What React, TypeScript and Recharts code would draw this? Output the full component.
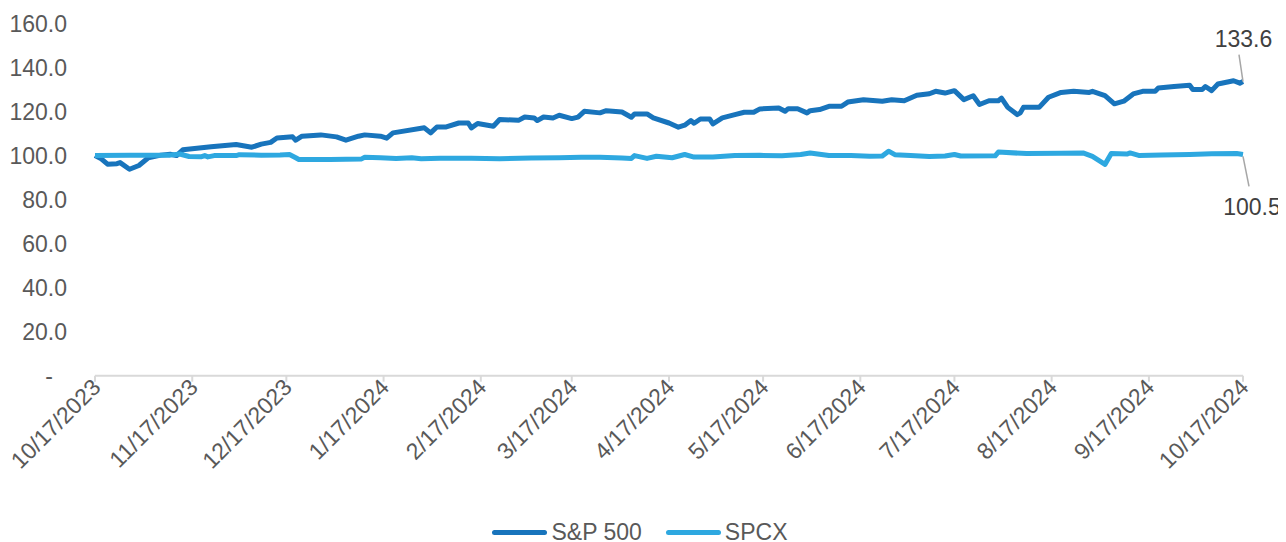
import React from "react";
import { LineChart, Line, XAxis, YAxis } from "recharts";

const tickLabels = [
  "10/17/2023", "11/17/2023", "12/17/2023", "1/17/2024", "2/17/2024", "3/17/2024",
  "4/17/2024", "5/17/2024", "6/17/2024", "7/17/2024", "8/17/2024", "9/17/2024", "10/17/2024",
];
const yTicks = [0, 20, 40, 60, 80, 100, 120, 140, 160];

// days since 10/17/2023
const spDays = [0, 2, 4, 7, 8, 11, 14, 17, 21, 24, 26, 28, 37, 45, 50, 53, 56, 58, 63, 64, 66, 72, 77, 80, 84, 86, 91, 93, 95, 105, 107, 109, 112, 116, 119, 120, 122, 127, 129, 135, 137, 140, 141, 143, 146, 148, 152, 154, 156, 161, 163, 168, 171, 172, 176, 178, 183, 186, 188, 190, 191, 193, 196, 197, 200, 204, 207, 210, 212, 218, 220, 221, 224, 227, 228, 231, 234, 238, 240, 245, 251, 254, 258, 262, 266, 268, 271, 274, 277, 280, 282, 285, 288, 289, 291, 294, 295, 296, 301, 304, 308, 312, 317, 318, 322, 325, 328, 331, 334, 338, 339, 344, 349, 350, 353, 354, 356, 358, 363, 365, 366];
const spValues = [100, 98.5, 96.1, 96.3, 96.8, 93.8, 95.5, 99.0, 100.2, 100.6, 100.0, 102.6, 104, 105, 103.8, 105.2, 106, 108, 108.5, 107, 108.8, 109.4, 108.5, 107, 108.8, 109.4, 108.8, 107.9, 110.3, 112.6, 110.3, 113, 113, 114.8, 114.8, 112.6, 114.6, 113.3, 116.4, 116, 117.5, 117.1, 115.9, 117.5, 117.1, 118.3, 116.8, 117.5, 120.1, 119.4, 120.4, 119.8, 117.4, 118.9, 118.9, 117.1, 114.8, 112.9, 113.8, 115.9, 114.7, 116.6, 116.6, 114.4, 117.1, 118.6, 119.7, 119.7, 121.2, 121.6, 120.1, 121.3, 121.3, 119.4, 120.4, 120.9, 122.4, 122.4, 124.3, 125.4, 124.7, 125.4, 124.9, 127.4, 128.1, 129.2, 128.4, 129.5, 125.4, 127.2, 123.2, 124.9, 124.9, 126.1, 121.9, 118.6, 119.4, 121.9, 121.9, 126.5, 128.7, 129.2, 128.7, 129.2, 127.2, 123.5, 124.7, 128, 129.2, 129.2, 130.7, 131.4, 131.9, 130, 130, 131.4, 129.5, 132.5, 134, 132.9, 133.6];

const spcxDays = [0, 11, 24, 27, 30, 34, 35, 36, 38, 45, 46, 53, 59, 62, 64, 65, 75, 85, 86, 91, 96, 101, 104, 110, 120, 129, 139, 148, 155, 161, 168, 171, 172, 176, 179, 184, 188, 191, 197, 204, 212, 219, 225, 228, 234, 241, 247, 251, 253, 255, 260, 266, 271, 274, 276, 287, 288, 297, 308, 315, 318, 322, 324, 329, 330, 333, 340, 349, 356, 364, 366];
const spcxValues = [100, 100.2, 100.2, 100.7, 99.6, 99.5, 100.0, 99.4, 100.0, 100.0, 100.4, 100.2, 100.3, 100.5, 99.0, 98.2, 98.2, 98.5, 99.2, 99.0, 98.7, 99.0, 98.6, 98.8, 98.8, 98.6, 98.9, 99.0, 99.2, 99.2, 98.9, 98.7, 100.0, 98.7, 99.7, 99.0, 100.5, 99.3, 99.3, 100.0, 100.1, 99.9, 100.5, 101.2, 100.0, 100.0, 99.7, 99.8, 102.0, 100.4, 100.0, 99.6, 99.8, 100.5, 99.8, 99.9, 101.6, 100.9, 101.0, 101.2, 99.6, 96.0, 100.9, 100.7, 101.2, 100.0, 100.3, 100.5, 100.8, 100.9, 100.5];

const SP_COLOR = "#1874BC";
const SPCX_COLOR = "#2EA8E0";
const FONT = "'Liberation Sans', Arial, sans-serif";
const FS = 23;

const BASE = Date.UTC(2023, 9, 17);
const dayOf = (s: string) => {
  const [m, d, y] = s.split("/").map(Number);
  return Math.round((Date.UTC(y, m - 1, d) - BASE) / 86400000);
};
const xTicks = tickLabels.map(dayOf);
const labelByDay: Record<number, string> = {};
tickLabels.forEach((l, i) => (labelByDay[xTicks[i]] = l));

const spData = spDays.map((d, i) => ({ d, v: spValues[i] }));
const spcxData = spcxDays.map((d, i) => ({ d, v: spcxValues[i] }));

const YTick = (props: any) => {
  const { x, y, payload } = props;
  const zero = payload.value === 0;
  return (
    <text x={zero ? x - 34 : x - 20} y={y} dy="0.36em" textAnchor="end" fill="#595959" fontSize={FS} fontFamily={FONT}>
      {zero ? "-" : payload.value.toFixed(1)}
    </text>
  );
};

const XTick = (props: any) => {
  const { x, y, payload } = props;
  return (
    <g transform={`translate(${x + 7},${y + 5})`}>
      <text x={0} y={0} textAnchor="end" transform="rotate(-45)" fill="#595959" fontSize={FS} fontFamily={FONT}>
        {labelByDay[payload.value]}
      </text>
    </g>
  );
};

const makeEndLabel = (len: number, above: boolean) => (props: any) => {
  const { x, y, index, value } = props;
  if (index !== len - 1) return null;
  if (above) {
    return (
      <g>
        <line x1={x - 4} y1={y - 27} x2={x} y2={y} stroke="#A6A6A6" strokeWidth={1.5} />
        <text x={x + 0.5} y={y - 35} textAnchor="middle" fill="#404040" fontSize={FS} fontFamily={FONT}>
          {Number(value).toFixed(1)}
        </text>
      </g>
    );
  }
  return (
    <g>
      <line x1={x} y1={y + 2} x2={x + 6} y2={y + 32} stroke="#A6A6A6" strokeWidth={1.5} />
      <text x={x + 9} y={y + 61} textAnchor="middle" fill="#404040" fontSize={FS} fontFamily={FONT}>
        {Number(value).toFixed(1)}
      </text>
    </g>
  );
};

const LegendItem = ({ color, name }: { color: string; name: string }) => (
  <div style={{ display: "flex", alignItems: "center", margin: "0 12px" }}>
    <div style={{ width: 55, height: 5, borderRadius: 3, background: color, marginRight: 4 }} />
    <span style={{ fontSize: FS, color: "#595959", fontFamily: FONT }}>{name}</span>
  </div>
);

export default function App() {
  return (
    <div style={{ position: "relative", width: 1278, height: 534 }}>
      <LineChart width={1278} height={500} margin={{ top: 15.5, right: 43, left: 0, bottom: 0 }} style={{ overflow: "visible" }}>
        <XAxis
          dataKey="d"
          type="number"
          domain={[0, 366]}
          ticks={xTicks}
          interval={0}
          height={132.3}
          stroke="#D9D9D9"
          strokeWidth={2}
          tickSize={6}
          tick={<XTick />}
          allowDuplicatedCategory={false}
        />
        <YAxis
          domain={[0, 160]}
          ticks={yTicks}
          interval={0}
          width={87}
          axisLine={false}
          tickLine={false}
          tick={<YTick />}
        />
        <Line
          data={spData}
          dataKey="v"
          name="S&P 500"
          stroke={SP_COLOR}
          strokeWidth={5}
          dot={false}
          strokeLinejoin="round"
          isAnimationActive={false}
          label={makeEndLabel(spData.length, true)}
        />
        <Line
          data={spcxData}
          dataKey="v"
          name="SPCX"
          stroke={SPCX_COLOR}
          strokeWidth={5}
          dot={false}
          strokeLinejoin="round"
          isAnimationActive={false}
          label={makeEndLabel(spcxData.length, false)}
        />
      </LineChart>
      <div
        style={{
          position: "absolute",
          top: 510,
          left: 0,
          width: 1264,
          height: 28,
          display: "flex",
          justifyContent: "center",
          alignItems: "center",
        }}
      >
        <LegendItem color={SP_COLOR} name="S&P 500" />
        <LegendItem color={SPCX_COLOR} name="SPCX" />
      </div>
    </div>
  );
}
